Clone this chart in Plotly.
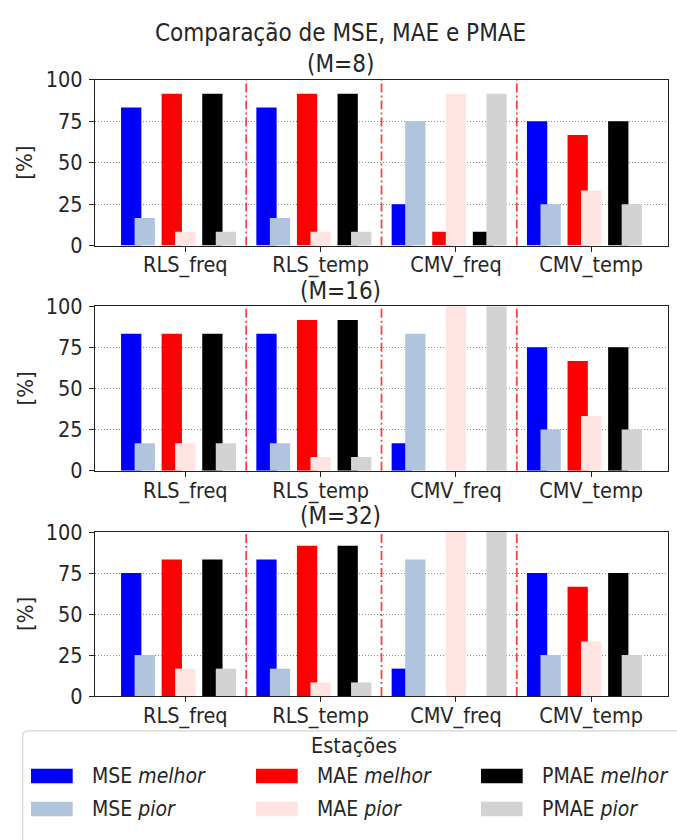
import plotly.graph_objects as go

# ---------------- data ----------------
categories = ["RLS_freq", "RLS_temp", "CMV_freq", "CMV_temp"]
panel_labels = ["(M=8)", "(M=16)", "(M=32)"]
series_names = ["MSE <i>melhor</i>", "MSE <i>pior</i>",
                "MAE <i>melhor</i>", "MAE <i>pior</i>",
                "PMAE <i>melhor</i>", "PMAE <i>pior</i>"]

# M = 8
m8_mse_melhor = [83.3, 83.3, 25.0, 75.0]
m8_mse_pior = [16.7, 16.7, 75.0, 25.0]
m8_mae_melhor = [91.7, 91.7, 8.3, 66.7]
m8_mae_pior = [8.3, 8.3, 91.7, 33.3]
m8_pmae_melhor = [91.7, 91.7, 8.3, 75.0]
m8_pmae_pior = [8.3, 8.3, 91.7, 25.0]

# M = 16
m16_mse_melhor = [83.3, 83.3, 16.7, 75.0]
m16_mse_pior = [16.7, 16.7, 83.3, 25.0]
m16_mae_melhor = [83.3, 91.7, 0.0, 66.7]
m16_mae_pior = [16.7, 8.3, 100.0, 33.3]
m16_pmae_melhor = [83.3, 91.7, 0.0, 75.0]
m16_pmae_pior = [16.7, 8.3, 100.0, 25.0]

# M = 32
m32_mse_melhor = [75.0, 83.3, 16.7, 75.0]
m32_mse_pior = [25.0, 16.7, 83.3, 25.0]
m32_mae_melhor = [83.3, 91.7, 0.0, 66.7]
m32_mae_pior = [16.7, 8.3, 100.0, 33.3]
m32_pmae_melhor = [83.3, 91.7, 0.0, 75.0]
m32_pmae_pior = [16.7, 8.3, 100.0, 25.0]

y_ticks = [0, 25, 50, 75, 100]

panels = [
    [m8_mse_melhor, m8_mse_pior, m8_mae_melhor, m8_mae_pior, m8_pmae_melhor, m8_pmae_pior],
    [m16_mse_melhor, m16_mse_pior, m16_mae_melhor, m16_mae_pior, m16_pmae_melhor, m16_pmae_pior],
    [m32_mse_melhor, m32_mse_pior, m32_mae_melhor, m32_mae_pior, m32_pmae_melhor, m32_pmae_pior],
]

# ---------------- style / layout ----------------
W, H = 677, 840
colors = ["#0000ff", "#b0c4de", "#ff0000", "#ffe4e1", "#000000", "#d3d3d3"]
bar_offsets = [-0.4, -0.3, -0.1, 0.0, 0.2, 0.3]
bar_width = 0.15
sep_offset = 0.45
x_range = [-0.6675, 3.5675]
FONT = "DejaVu Sans Condensed, DejaVu Sans"
TXT = "#262626"

def fx(p):
    return p / W

def fy(p):
    return 1 - p / H

panel_px = [(70, 240.7), (303.3, 472.7), (536, 705)]
x_dom = [fx(95), fx(668)]

fig = go.Figure()
idx = list(range(len(categories)))

for pi, series in enumerate(panels):
    xa = "x" if pi == 0 else f"x{pi+1}"
    ya = "y" if pi == 0 else f"y{pi+1}"
    for si, vals in enumerate(series):
        fig.add_trace(go.Bar(
            x=[i + bar_offsets[si] for i in idx], y=vals, width=bar_width,
            marker=dict(color=colors[si], line=dict(width=0)),
            name=series_names[si], showlegend=False, xaxis=xa, yaxis=ya,
            hovertemplate="%{y:.1f}%<extra>" + series_names[si] + "</extra>",
        ))
    for i in idx[:-1]:
        fig.add_shape(type="line", xref=xa, yref=f"{ya} domain",
                      x0=i + sep_offset, x1=i + sep_offset, y0=0, y1=1,
                      line=dict(color="rgba(255,0,0,0.75)", width=1.8, dash="9px,3px,2px,3px"),
                      layer="above")

axis_common = dict(showline=True, mirror=True, linecolor="#222", linewidth=1.2,
                   ticks="outside", ticklen=5, tickwidth=1.2, tickcolor="#222",
                   tickfont=dict(family=FONT, size=21.5, color=TXT), zeroline=False)

layout = dict(
    width=W, height=H, margin=dict(l=0, r=0, t=0, b=0),
    paper_bgcolor="white", plot_bgcolor="white",
    barmode="overlay", showlegend=False,
    font=dict(family=FONT, color=TXT),
)
for pi, (top, bot) in enumerate(panel_px):
    sfx = "" if pi == 0 else str(pi + 1)
    layout["xaxis" + sfx] = dict(
        domain=x_dom, range=x_range, tickmode="array", tickvals=idx, ticktext=categories,
        showgrid=False, anchor="y" + sfx, ticklabelstandoff=-5, **axis_common)
    layout["yaxis" + sfx] = dict(
        domain=[fy(bot), fy(top)], range=[0, 100], tickmode="array", tickvals=y_ticks,
        showgrid=True, gridcolor="#8a8a8a", gridwidth=1, griddash="1px,2px",
        anchor="x" + sfx, ticklabelstandoff=2, **axis_common)
fig.update_layout(**layout)

ann = []
ann.append(dict(text="Comparação de MSE, MAE e PMAE", x=fx(340), y=fy(22),
                font=dict(size=24)))
title_y = [54, 287.5, 519.5]
for pi, lab in enumerate(panel_labels):
    ann.append(dict(text=lab, x=fx(340), y=fy(title_y[pi]), font=dict(size=24)))
for top, bot in panel_px:
    ann.append(dict(text="[%]", x=fx(25), y=fy((top + bot) / 2), textangle=-90,
                    font=dict(size=22)))

# ---------------- manual legend ----------------
lx0, lx1, ly0, ly1, rad = 22.7, 686, 741, 860, 6
legend_path = (f"M {fx(lx0)},{fy(ly0 + rad)} "
               f"Q {fx(lx0)},{fy(ly0)} {fx(lx0 + rad)},{fy(ly0)} "
               f"L {fx(lx1 - rad)},{fy(ly0)} "
               f"Q {fx(lx1)},{fy(ly0)} {fx(lx1)},{fy(ly0 + rad)} "
               f"L {fx(lx1)},{fy(ly1)} L {fx(lx0)},{fy(ly1)} Z")
fig.add_shape(type="path", xref="paper", yref="paper", path=legend_path,
              line=dict(color="#d4d4d4", width=1.2), fillcolor="rgba(255,255,255,0.8)")
ann.append(dict(text="Estações", x=fx(354), y=fy(756), font=dict(size=21.5)))
col_x = [31, 256, 481]
row_y = [787.5, 821.5]
for si in range(6):
    c, r = si // 2, si % 2
    x0 = col_x[c]
    yc = row_y[r]
    fig.add_shape(type="rect", xref="paper", yref="paper",
                  x0=fx(x0), x1=fx(x0 + 41.7), y0=fy(yc + 7.5), y1=fy(yc - 7.5),
                  line=dict(width=0), fillcolor=colors[si])
    ann.append(dict(text=series_names[si], x=fx(x0 + 59.7), y=fy(yc),
                    xanchor="left", font=dict(size=21)))

for a in ann:
    a.setdefault("xanchor", "center")
    a.update(xref="paper", yref="paper", yanchor="middle", showarrow=False, borderpad=0)
    a["font"] = dict(family=FONT, color=TXT, size=a["font"]["size"])
fig.update_layout(annotations=ann)

fig.write_html("out.html")
